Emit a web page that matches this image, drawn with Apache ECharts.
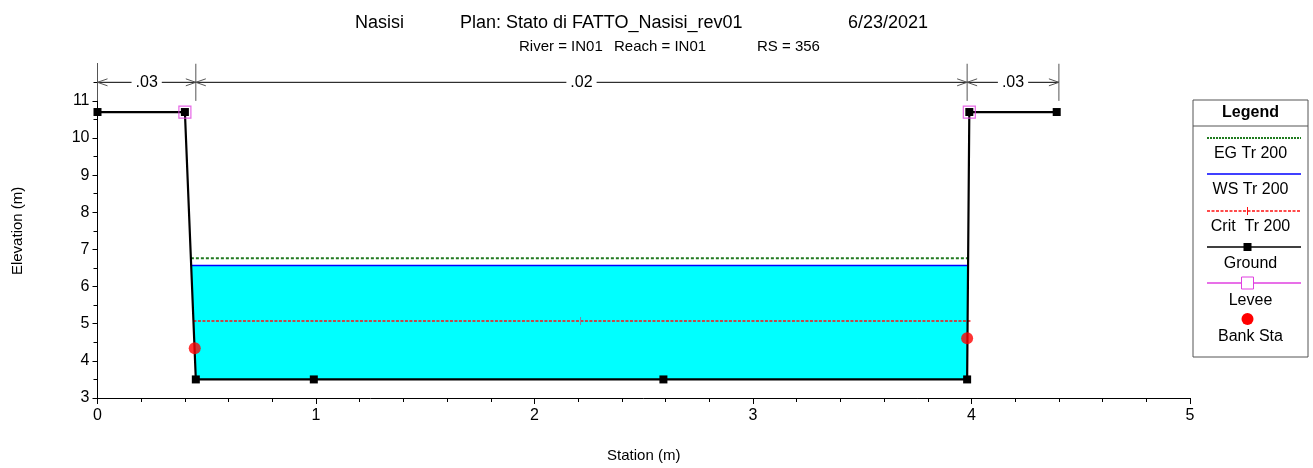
<!DOCTYPE html>
<html>
<head>
<meta charset="utf-8">
<script src="https://cdn.jsdelivr.net/npm/echarts@6/dist/echarts.min.js"></script>
<style>
  html, body { margin: 0; padding: 0; background: #ffffff; }
  #chart { width: 1313px; height: 468px; }
</style>
</head>
<body>
<div id="chart"></div>
<script>
// Cross-section geometry (station m, elevation m)
const groundStation = [0, 0.40, 0.45, 0.99, 2.59, 3.98, 3.99, 4.39];
const groundElev    = [10.70, 10.70, 3.50, 3.50, 3.50, 3.50, 10.70, 10.70];
const leveeStation  = [0.40, 3.99];
const leveeElev     = [10.70, 10.70];
const bankStation   = [0.445, 3.98];
const bankElev      = [4.34, 4.61];

// Water surface profile results, Tr 200
const egElev   = 6.76;
const wsElev   = 6.57;
const critElev = 5.07;

// Manning's n regions
const nStations = [0, 0.45, 3.98, 4.40];
const nValues   = ['.03', '.02', '.03'];

// Axis ticks
const xTicks = [0, 1, 2, 3, 4, 5];
const yTicks = [3, 4, 5, 6, 7, 8, 9, 10, 11];

const FONT = '"Liberation Sans", Arial, sans-serif';

const ground = groundStation.map((s, i) => [s, groundElev[i]]);

// Where a horizontal level meets the channel walls
function wallCrossings(h) {
  const xs = [];
  for (let i = 0; i < ground.length - 1; i++) {
    const [x1, y1] = ground[i], [x2, y2] = ground[i + 1];
    if ((y1 - h) * (y2 - h) < 0) {
      xs.push(x1 + (x2 - x1) * (h - y1) / (y2 - y1));
    }
  }
  return [xs[0], xs[xs.length - 1]];
}

const [wsL, wsR] = wallCrossings(wsElev);
const [egL, egR] = wallCrossings(egElev);
const [crL, crR] = wallCrossings(critElev);

// Wetted area polygon: water surface down to the ground
const waterPoly = [[wsL, wsElev]]
  .concat(ground.filter(p => p[0] > wsL && p[0] < wsR && p[1] < wsElev))
  .concat([[wsR, wsElev]]);

const chart = echarts.init(document.getElementById('chart'), null, { renderer: 'canvas' });

// Manning's n bar drawn above the section
function renderNBar(params, api) {
  const children = [];
  const yMid = api.coord([0, 11.5])[1];
  const yTop = api.coord([0, 12])[1];
  const yBot = api.coord([0, 11.0])[1];
  const px = nStations.map(s => api.coord([s, 11.5])[0]);
  const ls = { stroke: '#000', lineWidth: 1 };
  px.forEach(x => {
    children.push({ type: 'line', shape: { x1: x, y1: yTop, x2: x, y2: yBot }, style: { stroke: '#555', lineWidth: 1 } });
  });
  for (let i = 0; i < px.length - 1; i++) {
    const a = px[i], b = px[i + 1];
    children.push({ type: 'line', shape: { x1: a, y1: yMid, x2: b, y2: yMid }, style: ls });
    // open arrow heads pointing at each boundary
    children.push({ type: 'polyline', shape: { points: [[a + 10, yMid - 3.5], [a, yMid], [a + 10, yMid + 3.5]] }, style: { stroke: '#555', lineWidth: 1, fill: null } });
    children.push({ type: 'polyline', shape: { points: [[b - 10, yMid - 3.5], [b, yMid], [b - 10, yMid + 3.5]] }, style: { stroke: '#555', lineWidth: 1, fill: null } });
    children.push({
      type: 'text',
      x: (a + b) / 2, y: yMid,
      style: {
        text: nValues[i], fill: '#000', font: '16px ' + FONT,
        align: 'center', verticalAlign: 'middle',
        backgroundColor: '#fff', padding: [0, 4]
      }
    });
  }
  return { type: 'group', children };
}

function renderWater(params, api) {
  return {
    type: 'polygon',
    shape: { points: waterPoly.map(p => api.coord(p)) },
    style: { fill: '#00FFFF' }
  };
}

// Legend panel
const LX0 = 1193, LX1 = 1308, LCX = (LX0 + LX1) / 2;
const lineX0 = 1207, lineX1 = 1301;
function legendText(txt, y, bold) {
  return { type: 'text', x: LCX, y: y, style: { text: txt, fill: '#000', font: (bold ? 'bold ' : '') + '16px ' + FONT, align: 'center', verticalAlign: 'middle' } };
}
function legendLine(y, color, dash, w) {
  return { type: 'line', shape: { x1: lineX0, y1: y, x2: lineX1, y2: y }, style: { stroke: color, lineWidth: w || 1.5, lineDash: dash || null } };
}
const legendGraphic = {
  type: 'group',
  children: [
    { type: 'rect', shape: { x: LX0, y: 100, width: LX1 - LX0, height: 257 }, style: { fill: '#fff', stroke: '#555', lineWidth: 1 } },
    { type: 'line', shape: { x1: LX0, y1: 126, x2: LX1, y2: 126 }, style: { stroke: '#555', lineWidth: 1 } },
    legendText('Legend', 113, true),
    legendLine(138, '#1f7a1f', [2, 1], 2),
    legendText('EG Tr 200', 154),
    legendLine(174, '#0000ff', null, 1.5),
    legendText('WS Tr 200', 190),
    legendLine(211, '#ff1010', [3, 1.5], 1.3),
    { type: 'line', shape: { x1: LCX - 3, y1: 207, x2: LCX - 3, y2: 215 }, style: { stroke: '#ff1010', lineWidth: 1 } },
    legendText('Crit  Tr 200', 227),
    legendLine(247, '#000', null, 1.5),
    { type: 'rect', shape: { x: LCX - 3 - 4, y: 243, width: 8, height: 8 }, style: { fill: '#000' } },
    legendText('Ground', 264),
    legendLine(283, '#e040e0', null, 1.5),
    { type: 'rect', shape: { x: LCX - 3 - 6, y: 277, width: 12, height: 12 }, style: { fill: '#fff', stroke: '#e040e0', lineWidth: 1 } },
    legendText('Levee', 301),
    { type: 'circle', shape: { cx: LCX - 3, cy: 319, r: 6 }, style: { fill: '#ff0000' } },
    legendText('Bank Sta', 337)
  ]
};

const titleGraphic = {
  type: 'group',
  children: [
    { type: 'text', x: 355, y: 23, style: { text: 'Nasisi', fill: '#000', font: '18px ' + FONT, verticalAlign: 'middle' } },
    { type: 'text', x: 460, y: 23, style: { text: 'Plan: Stato di FATTO_Nasisi_rev01', fill: '#000', font: '18px ' + FONT, verticalAlign: 'middle' } },
    { type: 'text', x: 848, y: 23, style: { text: '6/23/2021', fill: '#000', font: '18px ' + FONT, verticalAlign: 'middle' } },
    { type: 'text', x: 519, y: 47, style: { text: 'River = IN01', fill: '#000', font: '15px ' + FONT, verticalAlign: 'middle' } },
    { type: 'text', x: 614, y: 47, style: { text: 'Reach = IN01', fill: '#000', font: '15px ' + FONT, verticalAlign: 'middle' } },
    { type: 'text', x: 757, y: 47, style: { text: 'RS = 356', fill: '#000', font: '15px ' + FONT, verticalAlign: 'middle' } }
  ]
};

const option = {
  backgroundColor: '#ffffff',
  animation: false,
  grid: { left: 97.5, right: 123, top: 63.75, bottom: 69, containLabel: false },
  xAxis: {
    type: 'value', min: 0, max: 5, interval: 1,
    name: 'Station (m)', nameLocation: 'middle', nameGap: 50,
    nameTextStyle: { color: '#000', fontSize: 15, fontFamily: FONT },
    axisLine: { show: true, onZero: false, lineStyle: { color: '#000', width: 1 } },
    axisTick: { show: true, inside: false, length: 6, lineStyle: { color: '#000' } },
    minorTick: { show: true, splitNumber: 5, length: 4, lineStyle: { color: '#000' } },
    axisLabel: { color: '#000', fontSize: 16, fontFamily: FONT, margin: 10, formatter: v => xTicks.includes(v) ? String(v) : '' },
    splitLine: { show: false }
  },
  yAxis: {
    type: 'value', min: 3, max: 12, interval: 1,
    name: 'Elevation (m)', nameLocation: 'middle', nameGap: 72, nameRotate: 90,
    nameTextStyle: { color: '#000', fontSize: 15, fontFamily: FONT },
    axisLine: { show: true, onZero: false, lineStyle: { color: '#000', width: 1 } },
    axisTick: { show: true, inside: false, length: 5, customValues: yTicks, lineStyle: { color: '#000' } },
    minorTick: { show: true, splitNumber: 2, length: 4, lineStyle: { color: '#000' } },
    axisLabel: { color: '#000', fontSize: 16, fontFamily: FONT, margin: 8, customValues: yTicks, formatter: v => yTicks.includes(v) ? String(v) : '' },
    splitLine: { show: false }
  },
  graphic: [titleGraphic, legendGraphic],
  series: [
    {
      name: 'Water', type: 'custom', renderItem: renderWater,
      data: [[wsL, wsElev]], z: 1, silent: true
    },
    {
      name: 'EG Tr 200', type: 'line', data: [[egL, egElev], [egR, egElev]],
      symbol: 'none', lineStyle: { color: '#1f7a1f', width: 2, type: [3, 2] }, z: 3
    },
    {
      name: 'WS Tr 200', type: 'line', data: [[wsL, wsElev], [wsR, wsElev]],
      symbol: 'none', lineStyle: { color: '#0000ff', width: 1.5 }, z: 3
    },
    {
      name: 'Crit Tr 200', type: 'line',
      data: [
        [crL, critElev],
        { value: [(crL + crR) / 2, critElev], symbol: 'rect', symbolSize: [1, 8], itemStyle: { color: '#8a7fa0' } },
        [crR + 0.015, critElev]
      ],
      symbol: 'none', showSymbol: true,
      lineStyle: { color: '#ff1010', width: 1.5, type: [3, 1.5] }, z: 3
    },
    {
      name: 'Ground', type: 'line', data: ground,
      symbol: 'rect', symbolSize: 8, showSymbol: true,
      itemStyle: { color: '#000' }, lineStyle: { color: '#000', width: 2.2 }, z: 4
    },
    {
      name: 'Levee', type: 'scatter', data: leveeStation.map((s, i) => [s, leveeElev[i]]),
      symbol: 'rect', symbolSize: 12,
      itemStyle: { color: 'rgba(0,0,0,0)', borderColor: '#e040e0', borderWidth: 1.2 }, z: 5
    },
    {
      name: 'Bank Sta', type: 'scatter', data: bankStation.map((s, i) => [s, bankElev[i]]),
      symbol: 'circle', symbolSize: 12, itemStyle: { color: '#ff0000' }, z: 6
    },
    {
      name: 'n values', type: 'custom', renderItem: renderNBar,
      data: [[0, 11.5]], z: 7, silent: true, clip: false
    }
  ]
};

chart.setOption(option);
</script>
</body>
</html>
